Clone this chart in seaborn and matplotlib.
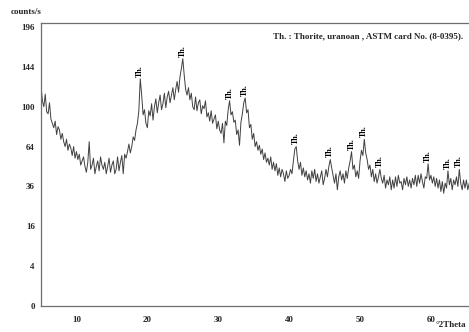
import numpy as np
import pandas as pd
import matplotlib
matplotlib.use("Agg")
import matplotlib.pyplot as plt
import seaborn as sns
from matplotlib.ticker import FixedLocator, MultipleLocator

# Scan grid (degrees 2-theta)
scan_start = 5.0
scan_step = 0.2

# Measured intensity (counts/s), one value per scan step from 5.0 to 65.4
counts = [
    122, 106, 100, 113, 95,
    93, 104, 88, 84, 80,
    86, 74, 81, 78, 70,
    75, 68, 64, 70, 61,
    66, 63, 57, 64, 55,
    60, 54, 58, 50, 53,
    56, 49, 45, 52, 68,
    47, 50, 55, 44, 49,
    53, 46, 56, 50, 47,
    52, 44, 49, 55, 45,
    50, 53, 44, 47, 56,
    46, 52, 57, 44, 58,
    55, 60, 66, 59, 64,
    72, 69, 78, 84, 96,
    130, 112, 92, 97, 84,
    80, 96, 91, 103, 87,
    100, 108, 94, 104, 112,
    97, 103, 114, 99, 110,
    116, 104, 112, 120, 107,
    118, 127, 115, 132, 142,
    154, 134, 118, 112, 120,
    107, 114, 100, 97, 110,
    96, 104, 107, 93, 101,
    98, 106, 90, 94, 86,
    96, 84, 88, 92, 79,
    86, 78, 75, 84, 67,
    86, 82, 97, 106, 92,
    95, 85, 87, 74, 78,
    65, 85, 93, 104, 109,
    94, 97, 80, 83, 70,
    75, 64, 68, 61, 65,
    58, 62, 54, 59, 52,
    55, 50, 56, 47, 52,
    46, 51, 43, 48, 42,
    47, 44, 39, 46, 41,
    43, 47, 44, 53, 62,
    64, 53, 47, 52, 43,
    48, 42, 46, 40, 44,
    38, 46, 41, 47, 39,
    44, 38, 42, 46, 37,
    41, 47, 42, 49, 54,
    48, 43, 38, 44, 34,
    42, 46, 40, 44, 38,
    46, 41, 48, 53, 60,
    47, 50, 42, 46, 41,
    53, 61, 57, 70, 59,
    54, 47, 50, 42, 47,
    39, 44, 38, 42, 47,
    41, 38, 43, 35, 40,
    37, 42, 34, 40, 35,
    42, 36, 43, 38, 39,
    34, 41, 37, 42, 36,
    40, 35, 41, 37, 43,
    36, 43, 38, 44, 39,
    35, 42, 41, 51, 40,
    43, 38, 42, 36, 41,
    35, 40, 33, 39, 32,
    38, 35, 46, 37, 41,
    34, 40, 37, 42, 36,
    47, 38, 34, 40, 35,
    40, 34, 38,
]
two_theta = np.round(scan_start + scan_step * np.arange(len(counts)), 1)

# Reflections assigned to thorite
thorite_peaks = [19.0, 25.0, 31.6, 33.8, 41.0, 45.8, 48.8, 50.6, 52.8, 59.6, 62.4, 64.0]
peak_label = "Th."

y_ticks = [0, 4, 16, 36, 64, 100, 144, 196]
y_minor = [1, 9, 25, 49, 81, 121, 169]
x_ticks = [10, 20, 30, 40, 50, 60]

df = pd.DataFrame({"two_theta": two_theta, "counts": counts})

sns.set_style("white")
plt.rcParams["font.family"] = ["Liberation Serif", "DejaVu Serif"]
plt.rcParams["font.weight"] = "bold"

fig = plt.figure(figsize=(4.69, 3.32), dpi=100)
ax = fig.add_axes([41 / 469, 26 / 332, 1 - 41 / 469 + 0.002, (306 - 23) / 332])

sns.lineplot(data=df, x="two_theta", y="counts", ax=ax, color="#404040",
             linewidth=0.7, estimator=None, sort=False)

ax.set_yscale("function", functions=(lambda v: np.sqrt(np.clip(v, 0, None)), np.square))
ax.set_ylim(0, 201.6)
ax.set_xlim(5.0, 65.5)

ax.yaxis.set_major_locator(FixedLocator(y_ticks))
ax.yaxis.set_minor_locator(FixedLocator(y_minor))
ax.set_yticklabels([str(t) for t in y_ticks])
ax.xaxis.set_major_locator(FixedLocator(x_ticks))
ax.xaxis.set_minor_locator(MultipleLocator(1))
ax.set_xticklabels([str(t) for t in x_ticks])

ax.tick_params(axis="both", which="major", direction="out", length=3, width=0.8,
               color="#555555", labelsize=6.5, pad=1.5)
ax.tick_params(axis="both", which="minor", direction="out", length=2, width=0.6,
               color="#555555")
ax.tick_params(axis="x", which="major", pad=4)
for lab in ax.get_xticklabels() + ax.get_yticklabels():
    lab.set_fontweight("bold")

ax.set_xlabel("")
ax.set_ylabel("")
for side in ["left", "bottom", "top"]:
    ax.spines[side].set_visible(True)
    ax.spines[side].set_color("#6e6e6e")
    ax.spines[side].set_linewidth(0.9)
ax.spines["right"].set_visible(False)

# Phase markers above each reflection
for pos in thorite_peaks:
    window = df[(df.two_theta >= pos - 0.3) & (df.two_theta <= pos + 0.3)]
    top = window.counts.max()
    ax.annotate(peak_label, xy=(pos, top), xytext=(0, 1.5), textcoords="offset points",
                rotation=90, ha="center", va="bottom", fontsize=5.8,
                fontweight="bold", color="black")

fig.text(11 / 469, 1 - 12 / 332, "counts/s", fontsize=6.5, fontweight="bold",
         ha="left", va="center")
fig.text(463 / 469, 1 - 36 / 332, "Th. : Thorite, uranoan , ASTM card No. (8-0395).",
         fontsize=6.5, fontweight="bold", ha="right", va="center")
fig.text(466 / 469, 1 - 325 / 332, "°2Theta", fontsize=6.5, fontweight="bold",
         ha="right", va="center")

fig.savefig("out.png", dpi=100)
